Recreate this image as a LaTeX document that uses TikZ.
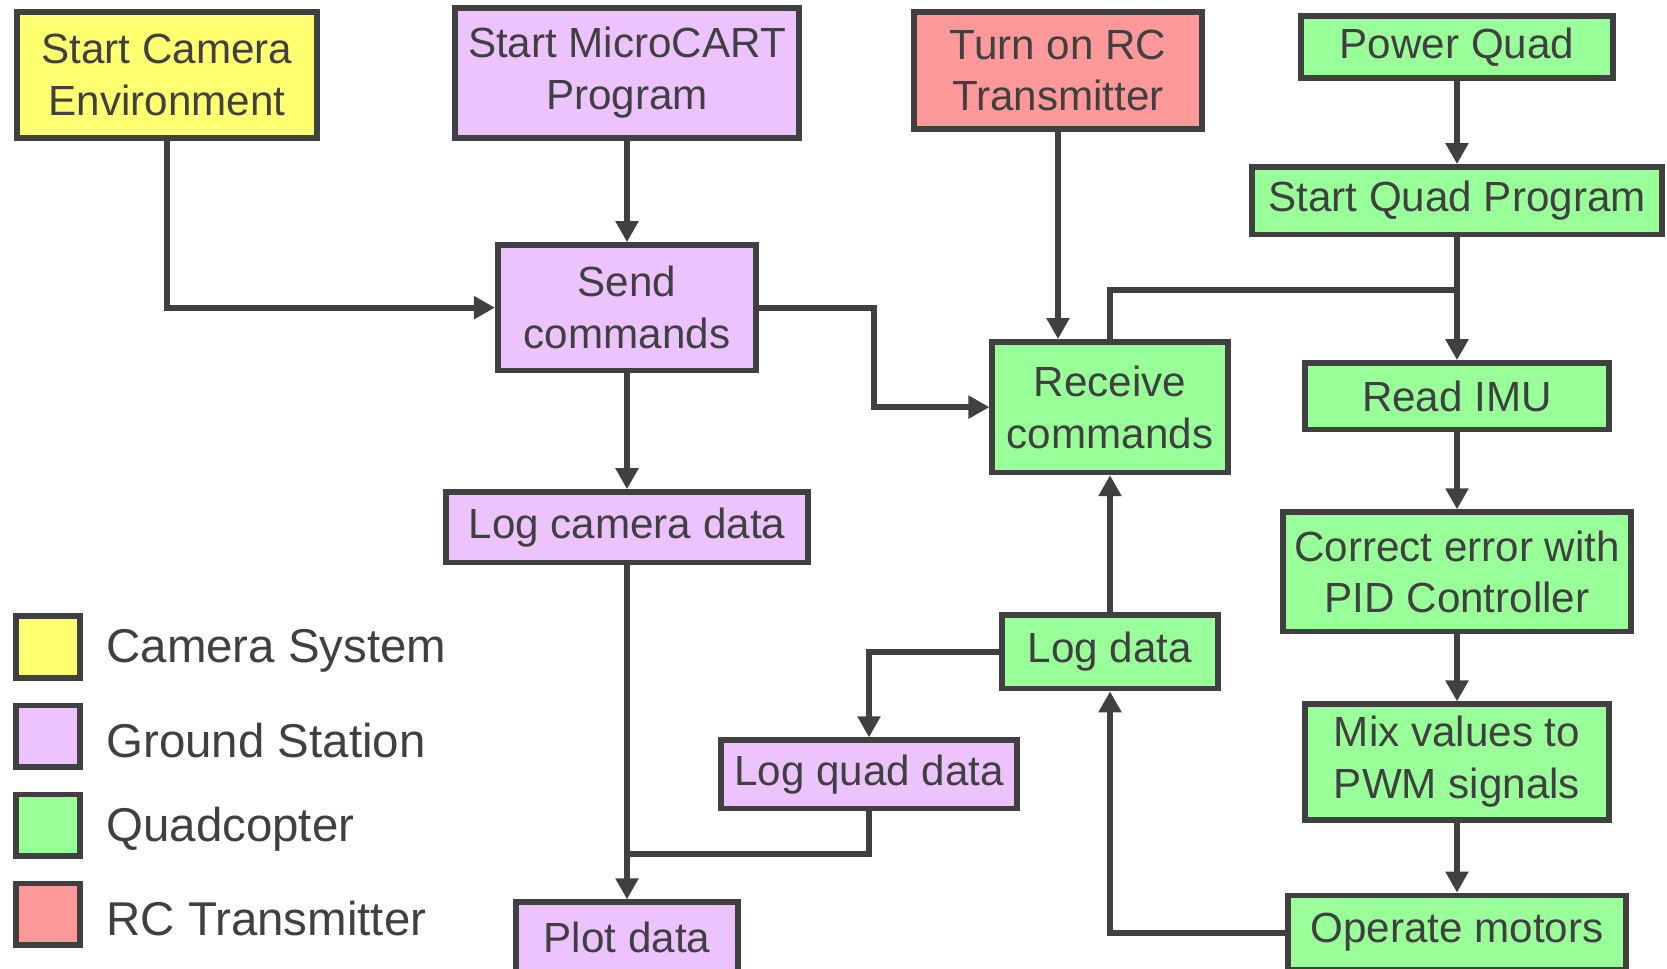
\documentclass[tikz,border=0pt]{standalone}
\usepackage{fontspec}
\setmainfont{Liberation Sans}
\usepackage{tikz}
\usetikzlibrary{positioning, arrows.meta, calc}
\definecolor{camfill}{HTML}{FFFF70}
\definecolor{gndfill}{HTML}{ECC2FF}
\definecolor{quadfill}{HTML}{99FF99}
\definecolor{rcfill}{HTML}{FF9999}
\definecolor{ink}{HTML}{404040}
\tikzset{
  blk/.style      = {rectangle, draw=ink, line width=3.2pt, text=ink,
                     align=center, inner sep=2pt,
                     font=\fontsize{24}{29.5}\selectfont},
  camblk/.style   = {blk, fill=camfill},
  gndblk/.style   = {blk, fill=gndfill},
  quadblk/.style  = {blk, fill=quadfill},
  rcblk/.style    = {blk, fill=rcfill},
  legsq/.style    = {rectangle, draw=ink, line width=3.2pt,
                     minimum width=1.29cm, minimum height=1.23cm},
  legtxt/.style   = {inner sep=0pt, text=ink, font=\fontsize{27}{32}\selectfont},
  ln/.style       = {line width=3.4pt, draw=ink},
  ar/.style       = {-{Triangle[length=0.42cm,width=0.44cm]}, line width=3.4pt,
                     draw=ink},
}
\begin{document}
\begin{tikzpicture}[node distance=1cm]

  \useasboundingbox (0,0) rectangle (33.34,-19.36);

  % top row
  \node[camblk, minimum width=6.01cm, minimum height=2.53cm] (cam) at (3.34,-1.50)
       {Start Camera\\Environment};
  \node[gndblk, minimum width=6.89cm, minimum height=2.61cm] (mcart) at (12.54,-1.46)
       {Start MicroCART\\Program};
  \node[rcblk, minimum width=5.75cm, minimum height=2.35cm] (rc) at (21.16,-1.41)
       {Turn on RC\\Transmitter};
  \node[quadblk, minimum width=6.23cm, minimum height=1.25cm] (power) at (29.14,-0.94)
       {Power Quad};

  % ground station column
  \node[gndblk, below=2.02cm of mcart, minimum width=5.17cm, minimum height=2.51cm] (send)
       {Send\\commands};
  \node[gndblk, below=2.32cm of send, minimum width=7.23cm, minimum height=1.41cm] (logcam)
       {Log camera data};
  \node[gndblk, below=6.68cm of logcam, minimum width=4.45cm, minimum height=1.41cm] (plot)
       {Plot data};

  % quad comms
  \node[quadblk, below=4.14cm of rc, xshift=1.04cm, minimum width=4.71cm, minimum height=2.61cm] (recv)
       {Receive\\commands};
  \node[quadblk, below=2.74cm of recv, minimum width=4.31cm, minimum height=1.47cm] (logd)
       {Log data};
  \node[gndblk, below=0.92cm of logd, xshift=-4.82cm, minimum width=5.91cm, minimum height=1.37cm] (logq)
       {Log quad data};

  % quad control loop
  \node[quadblk, below=1.66cm of power, minimum width=8.19cm, minimum height=1.35cm] (squad)
       {Start Quad Program};
  \node[quadblk, below=2.46cm of squad, minimum width=6.09cm, minimum height=1.33cm] (imu)
       {Read IMU};
  \node[quadblk, below=1.54cm of imu, minimum width=6.95cm, minimum height=2.39cm] (pid)
       {Correct error with\\PID Controller};
  \node[quadblk, below=1.34cm of pid, minimum width=6.09cm, minimum height=2.31cm] (mix)
       {Mix values to\\PWM signals};
  \node[quadblk, below=1.4cm of mix, minimum width=6.75cm, minimum height=1.49cm] (motors)
       {Operate motors};

  % legend
  \node[legsq, fill=camfill] (lcam) at (0.96,-12.94) {};
  \node[legsq, fill=gndfill, below=0.44cm of lcam] (lgnd) {};
  \node[legsq, fill=quadfill, below=0.44cm of lgnd] (lquad) {};
  \node[legsq, fill=rcfill, below=0.44cm of lquad] (lrc) {};
  \node[legtxt, right=0.46cm of lcam, yshift=-0.08cm] (tcam) {Camera System};
  \node[legtxt, right=0.46cm of lgnd, yshift=-0.08cm] (tgnd) {Ground Station};
  \node[legtxt, right=0.46cm of lquad, yshift=-0.08cm] (tquad) {Quadcopter};
  \node[legtxt, right=0.46cm of lrc, yshift=-0.08cm] (trc) {RC Transmitter};

  % junctions
  \path (squad.south) ++(0,-1.06) coordinate (qsplit);
  \path (logq.south) ++(0,-0.86) coordinate (qdrop);
  \coordinate (pmerge) at (logcam.south |- qdrop);

  \draw[ar] (cam.south) |- (send.west);
  \draw[ar] (mcart.south) -- (send.north);
  \draw[ar] (send.south) -- (logcam.north);
  \draw[ar] (send.east) -- ++(2.3,0) |- (recv.west);
  \draw[ar] (rc.south) -- (rc.south |- recv.north);
  \draw[ar] (power.south) -- (squad.north);
  \draw[ar] (squad.south) -- (imu.north);
  \draw[ln] (recv.north) |- (qsplit);
  \draw[ar] (imu.south) -- (pid.north);
  \draw[ar] (pid.south) -- (mix.north);
  \draw[ar] (mix.south) -- (motors.north);
  \draw[ar] (motors.west) -| (logd.south);
  \draw[ar] (logd.north) -- (recv.south);
  \draw[ar] (logd.west) -| (logq.north);
  \draw[ln] (logq.south) |- (pmerge);
  \draw[ar] (logcam.south) -- (plot.north);

\end{tikzpicture}
\end{document}
